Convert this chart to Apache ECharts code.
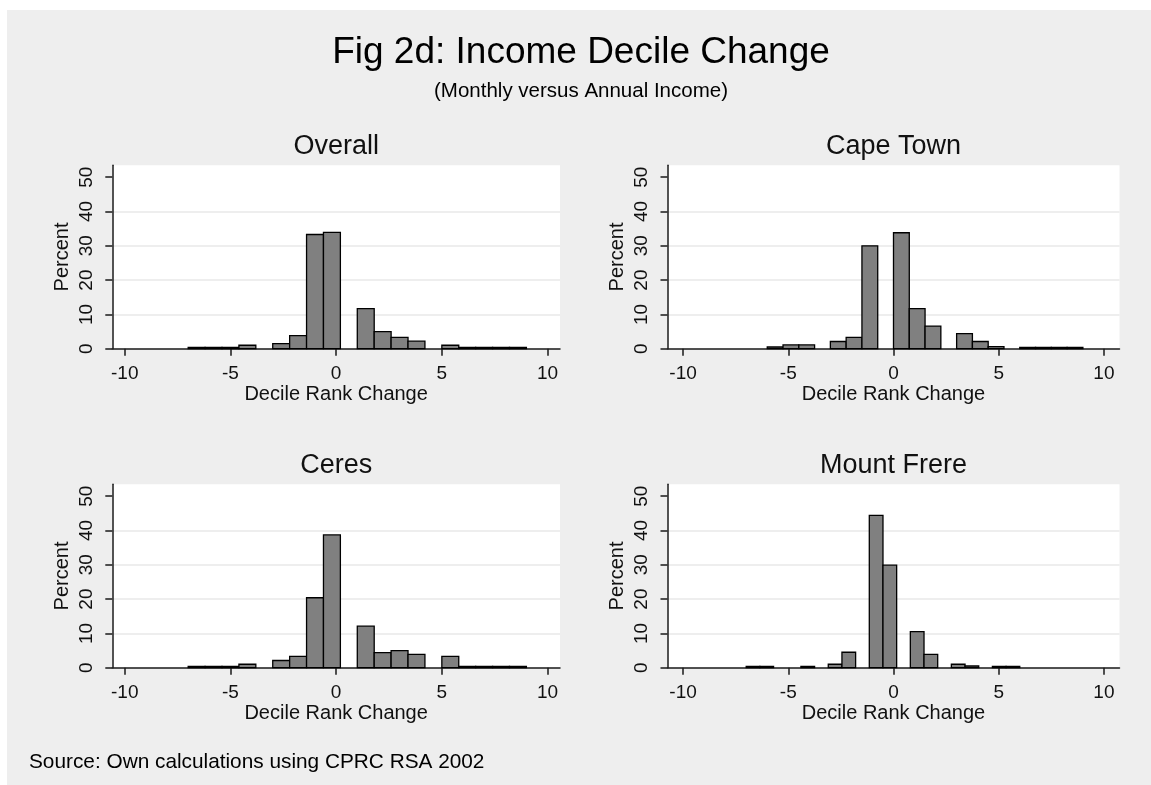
<!DOCTYPE html>
<html>
<head>
<meta charset="utf-8">
<title>Fig 2d: Income Decile Change</title>
<script src="https://cdn.jsdelivr.net/npm/echarts@6/dist/echarts.min.js"></script>
<style>
  html, body { margin: 0; padding: 0; background: #fff; }
  #chart { width: 1151px; height: 785px; }
</style>
</head>
<body>
<div id="chart"></div>
<script>
// Histogram of decile rank change (monthly vs annual income), percent per bin.
const panelNames = ['Overall', 'Cape Town', 'Ceres', 'Mount Frere'];

// Each panel has 20 bins: first bin lower edge and bin width.
const binStarts = [-7, -6, -7, -7];
const binWidths = [0.8, 0.75, 0.8, 0.65];

const overallPct   = [0.4, 0.4, 0.4, 1.0, 0, 1.5, 3.8, 33.3, 33.9, 0, 11.7, 5.0, 3.3, 2.2, 0, 1.0, 0.4, 0.4, 0.4, 0.4];
const capeTownPct  = [0.5, 1.1, 1.1, 0, 2.1, 3.3, 30.0, 0, 33.8, 11.7, 6.6, 0, 4.4, 2.1, 0.6, 0, 0.4, 0.4, 0.4, 0.4];
const ceresPct     = [0.4, 0.4, 0.4, 1.0, 0, 2.1, 3.3, 20.4, 38.7, 0, 12.1, 4.4, 5.0, 3.9, 0, 3.3, 0.4, 0.4, 0.4, 0.4];
const mountFrerePct = [0.4, 0.4, 0, 0, 0.4, 0, 1.0, 4.5, 0, 44.4, 29.9, 0, 10.5, 3.9, 0, 1.0, 0.5, 0, 0.4, 0.4];
const panelPct = [overallPct, capeTownPct, ceresPct, mountFrerePct];

const xTicks = [-10, -5, 0, 5, 10];
const yTicks = [0, 10, 20, 30, 40, 50];

const FONT = '"Liberation Sans", Arial, Helvetica, sans-serif';
const TEXT = '#111';

// Plot-region placement of the 2x2 panels
const grids = [
  { left: 112.3, top: 165.2, width: 447.7, height: 183.5 },
  { left: 667.5, top: 165.2, width: 452,   height: 183.5 },
  { left: 112.3, top: 484.2, width: 447.7, height: 183.5 },
  { left: 667.5, top: 484.2, width: 452,   height: 183.5 }
];
const xHalfRange = [10.59, 10.74, 10.59, 10.74];
const yTop = 53.5;

function binData(k) {
  const s = binStarts[k], w = binWidths[k];
  return panelPct[k].map((v, i) => [s + i * w, s + (i + 1) * w, v]);
}

function renderBin(params, api) {
  const pct = api.value(2);
  if (!(pct > 0)) return null;
  const p0 = api.coord([api.value(0), pct]);
  const p1 = api.coord([api.value(1), 0]);
  return {
    type: 'rect',
    shape: { x: p0[0], y: p0[1], width: p1[0] - p0[0], height: p1[1] - p0[1] },
    style: { fill: '#808080', stroke: '#000', lineWidth: 1.3 }
  };
}

const axisLineStyle = { color: '#1a1a1a', width: 1.5 };

const option = {
  backgroundColor: '#fff',
  animation: false,
  grid: grids.map(g => Object.assign({
    show: true, backgroundColor: '#fff', borderWidth: 0, containLabel: false
  }, g)),
  xAxis: grids.map((g, k) => ({
    type: 'value',
    gridIndex: k,
    min: -xHalfRange[k],
    max: xHalfRange[k],
    interval: 5,
    name: 'Decile Rank Change',
    nameLocation: 'middle',
    nameGap: 28.5,
    nameTextStyle: { fontFamily: FONT, fontSize: 20, color: TEXT },
    axisLine: { show: true, onZero: false, lineStyle: axisLineStyle },
    axisTick: { show: true, length: 7, lineStyle: axisLineStyle, customValues: xTicks },
    axisLabel: { fontFamily: FONT, fontSize: 19, color: TEXT, margin: 16, customValues: xTicks },
    splitLine: { show: false }
  })),
  yAxis: grids.map((g, k) => ({
    type: 'value',
    gridIndex: k,
    min: 0,
    max: yTop,
    interval: 10,
    name: 'Percent',
    nameLocation: 'middle',
    nameGap: 40,
    nameTextStyle: { fontFamily: FONT, fontSize: 20, color: TEXT },
    axisLine: { show: true, onZero: false, lineStyle: axisLineStyle },
    axisTick: { show: true, length: 7, lineStyle: axisLineStyle, customValues: yTicks },
    axisLabel: { fontFamily: FONT, fontSize: 19, color: TEXT, rotate: 90, margin: 16, customValues: yTicks },
    splitLine: { show: true, showMinLine: false, showMaxLine: false, lineStyle: { color: '#e8e8e8', width: 1.5 } }
  })),
  series: grids.map((g, k) => ({
    type: 'custom',
    name: panelNames[k],
    xAxisIndex: k,
    yAxisIndex: k,
    renderItem: renderBin,
    encode: { x: [0, 1], y: 2 },
    data: binData(k),
    z: 3
  })),
  graphic: [
    { type: 'rect', z: -10, silent: true, shape: { x: 7, y: 10, width: 1144, height: 775 }, style: { fill: '#eeeeee' } },
    { type: 'text', x: 581, y: 53, z: 10, style: { text: 'Fig 2d: Income Decile Change', fontFamily: FONT, fontSize: 37, fill: '#000', align: 'center', verticalAlign: 'middle', textAlign: 'center', textVerticalAlign: 'middle' } },
    { type: 'text', x: 581, y: 91, z: 10, style: { text: '(Monthly versus Annual Income)', fontFamily: FONT, fontSize: 20.5, fill: '#000', align: 'center', verticalAlign: 'middle', textAlign: 'center', textVerticalAlign: 'middle' } },
    { type: 'text', x: 29, y: 762, z: 10, style: { text: 'Source: Own calculations using CPRC RSA 2002', fontFamily: FONT, fontSize: 20.8, fill: '#000', align: 'left', verticalAlign: 'middle', textAlign: 'left', textVerticalAlign: 'middle' } }
  ].concat(grids.map((g, k) => ({
    type: 'text',
    x: g.left + g.width / 2,
    y: g.top - 19,
    z: 10,
    style: { text: panelNames[k], fontFamily: FONT, fontSize: 27, fill: '#111', align: 'center', verticalAlign: 'middle', textAlign: 'center', textVerticalAlign: 'middle' }
  })))
};

const chart = echarts.init(document.getElementById('chart'), null, { renderer: 'canvas' });
chart.setOption(option);
</script>
</body>
</html>
